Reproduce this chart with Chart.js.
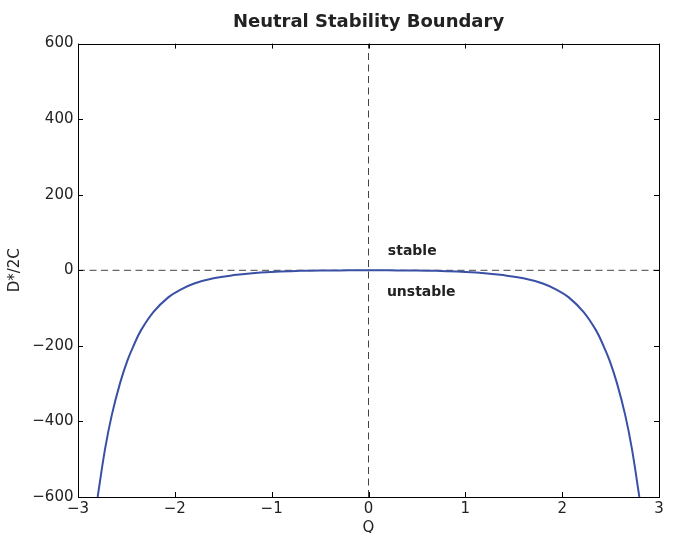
<!DOCTYPE html>
<html>
<head>
<meta charset="utf-8">
<script src="https://cdn.jsdelivr.net/npm/chart.js@4/dist/chart.umd.min.js"></script>
<style>
  html, body { margin: 0; padding: 0; background: #fff; }
  #wrap { width: 676px; height: 533px; }
</style>
</head>
<body>
<div id="wrap"><canvas id="chart"></canvas></div>
<script>
// values
const qValues = [-2.797, -2.72, -2.65, -2.565, -2.49, -2.425, -2.35, -2.22, -2.065, -1.94, -1.8, -1.6, -1.36, -1.2, -1.0, -0.8, -0.6, -0.4, -0.2, 0,
                 0.2, 0.4, 0.6, 0.8, 1.0, 1.2, 1.36, 1.6, 1.8, 1.94, 2.065, 2.22, 2.35, 2.425, 2.49, 2.565, 2.65, 2.72, 2.797];
const boundary = [-600, -472, -382, -298, -239, -199, -159, -110, -71, -51, -35, -21, -12, -7.5, -4.2, -2.2, -1, -0.4, -0.1, 0,
                  -0.1, -0.4, -1, -2.2, -4.2, -7.5, -12, -21, -35, -51, -71, -110, -159, -199, -239, -298, -382, -472, -600];
const xTicks = [-3, -2, -1, 0, 1, 2, 3];
const yTicks = [-600, -400, -200, 0, 200, 400, 600];
const regionLabels = [
    { text: 'stable', x: 0.2, y: 50 },
    { text: 'unstable', x: 0.19, y: -58 }
];

const fmt = v => (v < 0 ? '\u2212' + Math.abs(v) : String(v));
const FONT = 'DejaVu Sans';

// frame, inward ticks and region labels
const framePlugin = {
    id: 'frame',
    afterDraw(chart) {
        const ctx = chart.ctx;
        const a = chart.chartArea;
        const xs = chart.scales.x, ys = chart.scales.y;
        ctx.save();
        ctx.strokeStyle = '#000';
        ctx.lineWidth = 1;
        ctx.strokeRect(Math.round(a.left) + 0.5, Math.round(a.top) + 0.5,
                       Math.round(a.right - a.left), Math.round(a.bottom - a.top));
        ctx.beginPath();
        xTicks.forEach(t => {
            const px = Math.round(xs.getPixelForValue(t)) + 0.5;
            ctx.moveTo(px, a.bottom); ctx.lineTo(px, a.bottom - 5);
            ctx.moveTo(px, a.top); ctx.lineTo(px, a.top + 5);
        });
        yTicks.forEach(t => {
            const py = Math.round(ys.getPixelForValue(t)) + 0.5;
            ctx.moveTo(a.left, py); ctx.lineTo(a.left + 5, py);
            ctx.moveTo(a.right, py); ctx.lineTo(a.right - 5, py);
        });
        ctx.stroke();

        ctx.fillStyle = '#222';
        ctx.font = 'bold 14px "' + FONT + '"';
        ctx.textAlign = 'left';
        ctx.textBaseline = 'middle';
        regionLabels.forEach(l => {
            ctx.fillText(l.text, xs.getPixelForValue(l.x), ys.getPixelForValue(l.y));
        });
        ctx.restore();
    }
};

const config = {
    type: 'line',
    data: {
        datasets: [
            {
                label: 'boundary',
                data: qValues.map((q, i) => ({ x: q, y: boundary[i] })),
                borderColor: '#3a50a5',
                borderWidth: 2,
                pointRadius: 0,
                tension: 0.4,
                fill: false
            },
            {
                label: 'y0',
                data: [{ x: -3, y: 0 }, { x: 3, y: 0 }],
                borderColor: '#444',
                borderWidth: 1,
                borderDash: [7, 4.5],
                pointRadius: 0
            },
            {
                label: 'x0',
                data: [{ x: 0, y: -600 }, { x: 0, y: 600 }],
                borderColor: '#444',
                borderWidth: 1,
                borderDash: [7, 4.5],
                pointRadius: 0
            }
        ]
    },
    options: {
        responsive: false,
        animation: false,
        layout: { padding: { left: 0, right: 17, top: 0, bottom: 0 } },
        plugins: {
            legend: { display: false },
            tooltip: { enabled: false },
            title: {
                display: true,
                fullSize: false,
                text: 'Neutral Stability Boundary',
                color: '#222',
                font: { family: FONT, size: 18, weight: 'bold' },
                padding: { top: 12, bottom: 10 }
            }
        },
        scales: {
            x: {
                type: 'linear',
                min: -3,
                max: 3,
                afterBuildTicks: s => { s.ticks = xTicks.map(v => ({ value: v })); },
                afterFit: s => { s.height = 36; },
                grid: { display: false, drawTicks: false },
                border: { display: false },
                ticks: {
                    color: '#222',
                    padding: 3,
                    maxRotation: 0,
                    font: { family: FONT, size: 15 },
                    callback: v => fmt(v)
                },
                title: {
                    display: true,
                    text: 'Q',
                    color: '#222',
                    font: { family: FONT, size: 15, lineHeight: 1 },
                    padding: { top: 0, bottom: -3 }
                }
            },
            y: {
                type: 'linear',
                min: -600,
                max: 600,
                afterBuildTicks: s => { s.ticks = yTicks.map(v => ({ value: v })); },
                afterFit: s => { s.width = 78; },
                grid: { display: false, drawTicks: false },
                border: { display: false },
                ticks: {
                    color: '#222',
                    padding: 4.5,
                    font: { family: FONT, size: 15 },
                    callback: v => fmt(v)
                },
                title: {
                    display: true,
                    text: 'D*/2C',
                    color: '#222',
                    font: { family: FONT, size: 15, lineHeight: 1 },
                    padding: { top: 8, bottom: 0 }
                }
            }
        }
    },
    plugins: [framePlugin]
};

const canvas = document.getElementById('chart');
canvas.width = 676;
canvas.height = 533;
new Chart(canvas, config);
</script>
</body>
</html>
